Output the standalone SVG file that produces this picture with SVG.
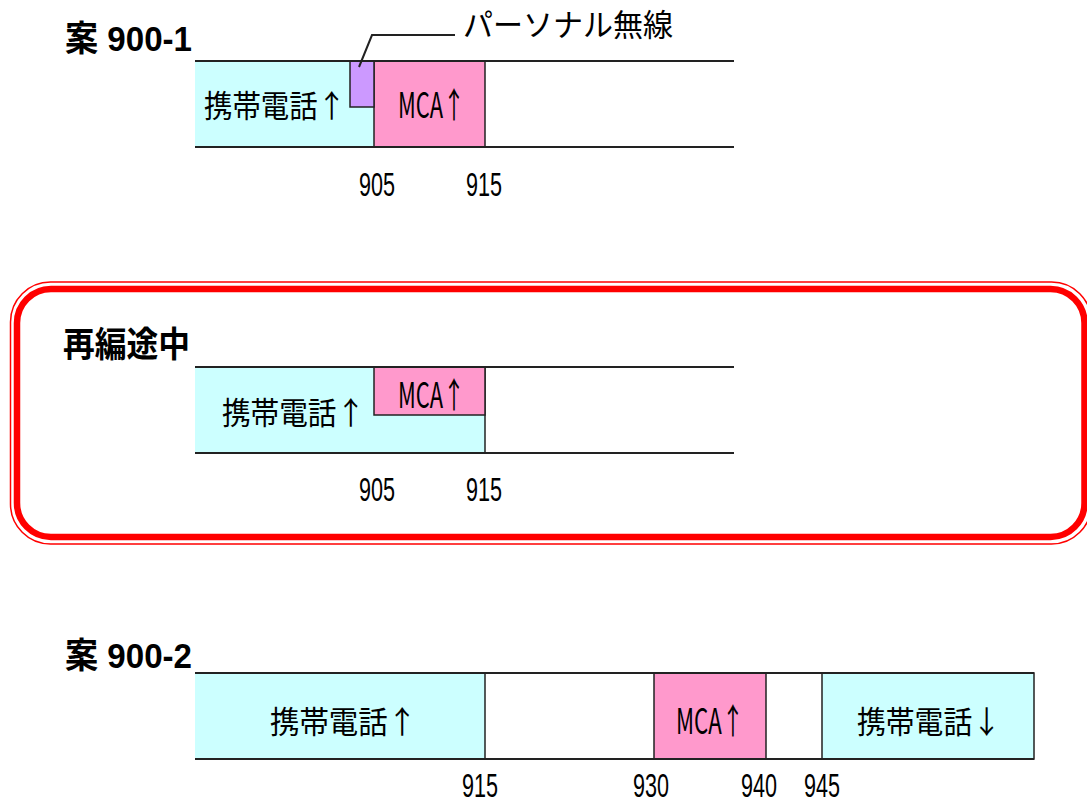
<svg xmlns="http://www.w3.org/2000/svg" width="1087" height="805" viewBox="0 0 1087 805">
<style>
.hl{stroke:#222;stroke-width:2;fill:none}
.vl{stroke:#222;stroke-width:1.5}
.cy{fill:#CCFFFF}
.pk{fill:#FF99CC}
.pu{fill:#CC99FF}
.bx{stroke:#222;stroke-width:1.5}
.jp{font-family:"Noto Sans CJK JP","Liberation Sans",sans-serif;font-size:31px;fill:#000}
.mca{font-family:"Noto Sans CJK JP","Liberation Sans",sans-serif;font-size:35px;fill:#000}
.num{font-family:"Liberation Sans","Noto Sans CJK JP",sans-serif;font-size:34px;fill:#000;text-anchor:middle}
.ttl{font-family:"Liberation Sans","Noto Sans CJK JP",sans-serif;font-size:35px;font-weight:bold;fill:#000}
</style>
<rect width="1087" height="805" fill="#fff"/>

<g id="frame">
<rect x="10.5" y="282" width="1081" height="262" rx="40" fill="none" stroke="#FF0000" stroke-width="1.5"/>
<rect x="17" y="289" width="1067.5" height="248" rx="34" fill="none" stroke="#FF0000" stroke-width="6.5"/>
</g>

<g id="plan1">
<text class="ttl" x="65" y="51" textLength="127" lengthAdjust="spacingAndGlyphs">案 900-1</text>
<g id="p1-cell"><rect class="cy" x="195" y="61" width="179" height="86"/>
<text class="jp" x="204" y="117" textLength="142" lengthAdjust="spacingAndGlyphs">携帯電話↑</text></g>
<g id="p1-mca"><rect class="pk bx" x="374" y="61" width="111" height="86"/>
<text class="mca" x="398" y="118" textLength="67" lengthAdjust="spacingAndGlyphs">MCA↑</text></g>
<g id="p1-pers"><rect class="pu bx" x="350" y="61" width="24" height="46"/></g>
<text class="jp" x="463" y="36" font-size="29" textLength="210" lengthAdjust="spacingAndGlyphs">パーソナル無線</text>
<line class="hl" x1="195" y1="61" x2="734" y2="61"/>
<line class="hl" x1="195" y1="147" x2="734" y2="147"/>
<text class="num" x="377" y="196" textLength="36" lengthAdjust="spacingAndGlyphs">905</text>
<text class="num" x="484" y="196" textLength="36" lengthAdjust="spacingAndGlyphs">915</text>
</g>

<g id="plan-mid">
<text class="ttl" x="63" y="357" textLength="127" lengthAdjust="spacingAndGlyphs">再編途中</text>
<g id="m-cell"><rect class="cy" x="195" y="367" width="290" height="86"/>
<text class="jp" x="222" y="424" textLength="143" lengthAdjust="spacingAndGlyphs">携帯電話↑</text></g>
<line class="vl" x1="485" y1="367" x2="485" y2="453"/>
<g id="m-mca"><rect class="pk bx" x="374" y="367" width="111" height="48"/>
<text class="mca" x="398" y="408" textLength="67" lengthAdjust="spacingAndGlyphs">MCA↑</text></g>
<line class="hl" x1="195" y1="367" x2="734" y2="367"/>
<line class="hl" x1="195" y1="453" x2="734" y2="453"/>
<text class="num" x="377" y="501" textLength="36" lengthAdjust="spacingAndGlyphs">905</text>
<text class="num" x="484" y="501" textLength="36" lengthAdjust="spacingAndGlyphs">915</text>
</g>

<g id="plan2">
<text class="ttl" x="65" y="668" textLength="127" lengthAdjust="spacingAndGlyphs">案 900-2</text>
<g id="q-cell1"><rect class="cy" x="195" y="673" width="290" height="86"/>
<text class="jp" x="270" y="733" textLength="147" lengthAdjust="spacingAndGlyphs">携帯電話↑</text></g>
<line class="vl" x1="485" y1="673" x2="485" y2="759"/>
<g id="q-mca"><rect class="pk bx" x="654" y="673" width="112" height="86"/>
<text class="mca" x="676" y="734" textLength="68" lengthAdjust="spacingAndGlyphs">MCA↑</text></g>
<g id="q-cell2"><rect class="cy bx" x="822" y="673" width="212" height="86"/>
<text class="jp" x="857" y="733" textLength="144" lengthAdjust="spacingAndGlyphs">携帯電話↓</text></g>
<line class="hl" x1="195" y1="673" x2="1034" y2="673"/>
<line class="hl" x1="195" y1="759" x2="1034" y2="759"/>
<text class="num" x="480" y="797" font-size="32" textLength="36" lengthAdjust="spacingAndGlyphs">915</text>
<text class="num" x="651" y="797" font-size="32" textLength="36" lengthAdjust="spacingAndGlyphs">930</text>
<text class="num" x="759" y="797" font-size="32" textLength="36" lengthAdjust="spacingAndGlyphs">940</text>
<text class="num" x="822" y="797" font-size="32" textLength="36" lengthAdjust="spacingAndGlyphs">945</text>
</g>

<g id="connectors">
<polyline class="hl" stroke-width="1.5" points="359,67 372,35 455,35"/>
</g>
</svg>
